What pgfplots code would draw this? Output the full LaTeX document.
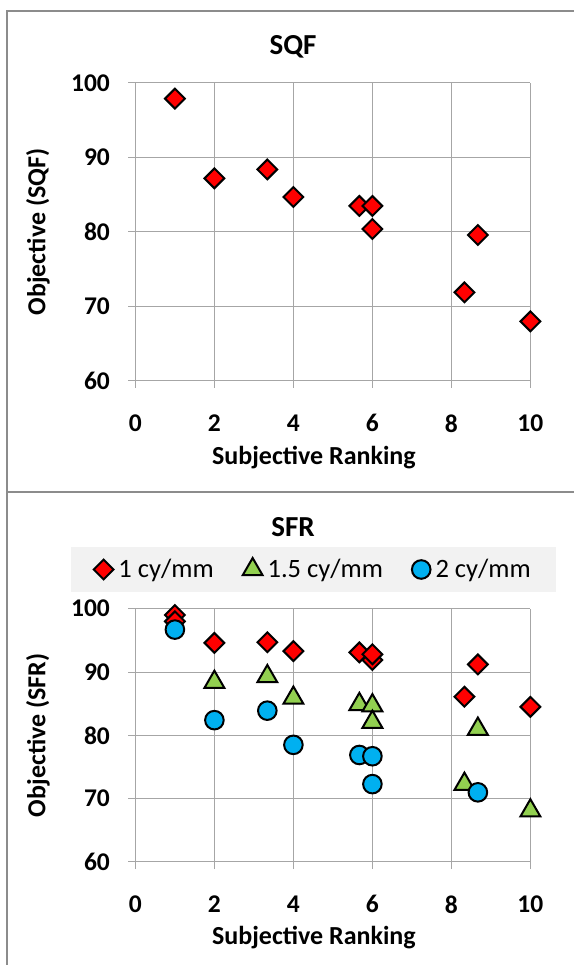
\documentclass[border=0pt]{standalone}
\usepackage{pgfplots}
\pgfplotsset{compat=1.18}
\usepackage{fontspec}
\setmainfont{Carlito}
\definecolor{mred}{HTML}{FF0000}
\definecolor{mgreen}{HTML}{92D050}
\definecolor{mblue}{HTML}{00B0F0}
\definecolor{gridc}{HTML}{A6A6A6}
\definecolor{framec}{HTML}{8C8C8C}
\definecolor{legbg}{HTML}{F2F2F2}
\pgfplotsset{
  common/.style={
    scale only axis, width=395pt,
    xmin=0, xmax=10, ymin=60, ymax=100,
    xtick={0,2,4,6,8,10}, ytick={60,70,80,90,100},
    grid=major, grid style={gridc, line width=1pt},
    axis lines*=left,
    axis line style={gridc, line width=1pt, -},
    tick align=outside, major tick length=7pt,
    tick style={gridc, line width=1pt},
    /pgf/number format/assume math mode=true,
    tick label style={font=\fontsize{25.5}{29}\selectfont\bfseries},
    xticklabel style={yshift=-23pt},
    yticklabel style={xshift=-15pt},
    label style={font=\fontsize{26}{30}\selectfont\bfseries},
    title style={font=\fontsize{29}{33}\selectfont\bfseries},
    clip=false,
  },
  dia/.style={only marks, mark=square*, mark size=7pt,
    mark options={rotate=45, fill=mred, draw=black, line width=2pt}},
  tri/.style={only marks, mark=triangle*, mark size=11.5pt,
    mark options={fill=mgreen, draw=black, line width=2pt}},
  cir/.style={only marks, mark=*, mark size=9.3pt,
    mark options={fill=mblue, draw=black, line width=2pt}},
}
\begin{document}
\begin{tikzpicture}
\useasboundingbox (0,0) rectangle (574pt,965pt);
% ---------- SQF ----------
\begin{axis}[common, height=298pt,
  at={(135.4pt,584pt)}, anchor=south west,
  title={SQF},
  title style={at={(axis description cs:0.399,1.1007)}, anchor=center},
  xlabel={Subjective Ranking},
  xlabel style={at={(axis description cs:0.452,-0.2584)}, anchor=center},
  ylabel={Objective (SQF)},
  ylabel style={at={(axis description cs:-0.2466,0.5)}, anchor=center},
]
\addplot[dia] coordinates {
 (1,97.9) (2,87.2) (3.34,88.4) (4,84.7) (5.67,83.5) (6,83.5) (6,80.4)
 (8.33,71.9) (8.67,79.6) (10,68.0)};
\end{axis}
% ---------- SFR ----------
\begin{axis}[common, height=253.3pt,
  at={(135.4pt,103pt)}, anchor=south west,
  title={SFR},
  title style={at={(axis description cs:0.399,1.2977)}, anchor=center},
  xlabel={Subjective Ranking},
  xlabel style={at={(axis description cs:0.452,-0.300)}, anchor=center},
  ylabel={Objective (SFR)},
  ylabel style={at={(axis description cs:-0.2466,0.5)}, anchor=center},
  legend columns=3,
  legend style={at={(axis description cs:-0.1643,1.1548)}, anchor=west,
    draw=none, fill=legbg, inner xsep=23pt, inner ysep=11pt,
    font=\fontsize{26.5}{30}\selectfont,
    /tikz/every odd column/.append style={column sep=3pt},
    /tikz/every even column/.append style={column sep=27pt}},
]
\addplot[dia] coordinates {
 (1,99.0) (1,98.0) (2,94.6) (3.34,94.7) (4,93.3) (5.67,93.1) (6,91.9) (6,92.8)
 (8.33,86.1) (8.67,91.2) (10,84.5)};
\addlegendentry{1 cy/mm}
\addplot[tri] coordinates {
 (2,88.4) (3.34,89.3) (4,85.9) (5.67,84.9) (6,84.7) (6,82.1)
 (8.33,72.3) (8.67,81.0) (10,68.1)};
\addlegendentry{1.5 cy/mm}
\addplot[cir] coordinates {
 (1,96.7) (2,82.4) (3.34,83.9) (4,78.5) (5.67,76.9) (6,76.7) (6,72.3)
 (8.67,71.0)};
\addlegendentry{2 cy/mm}
\end{axis}
% ---------- frames ----------
\draw[framec, line width=2pt] (7.3pt,0pt) -- (7.3pt,954pt) -- (574pt,954pt);
\draw[framec, line width=2pt] (7.3pt,473pt) -- (574pt,473pt);
\end{tikzpicture}
\end{document}
